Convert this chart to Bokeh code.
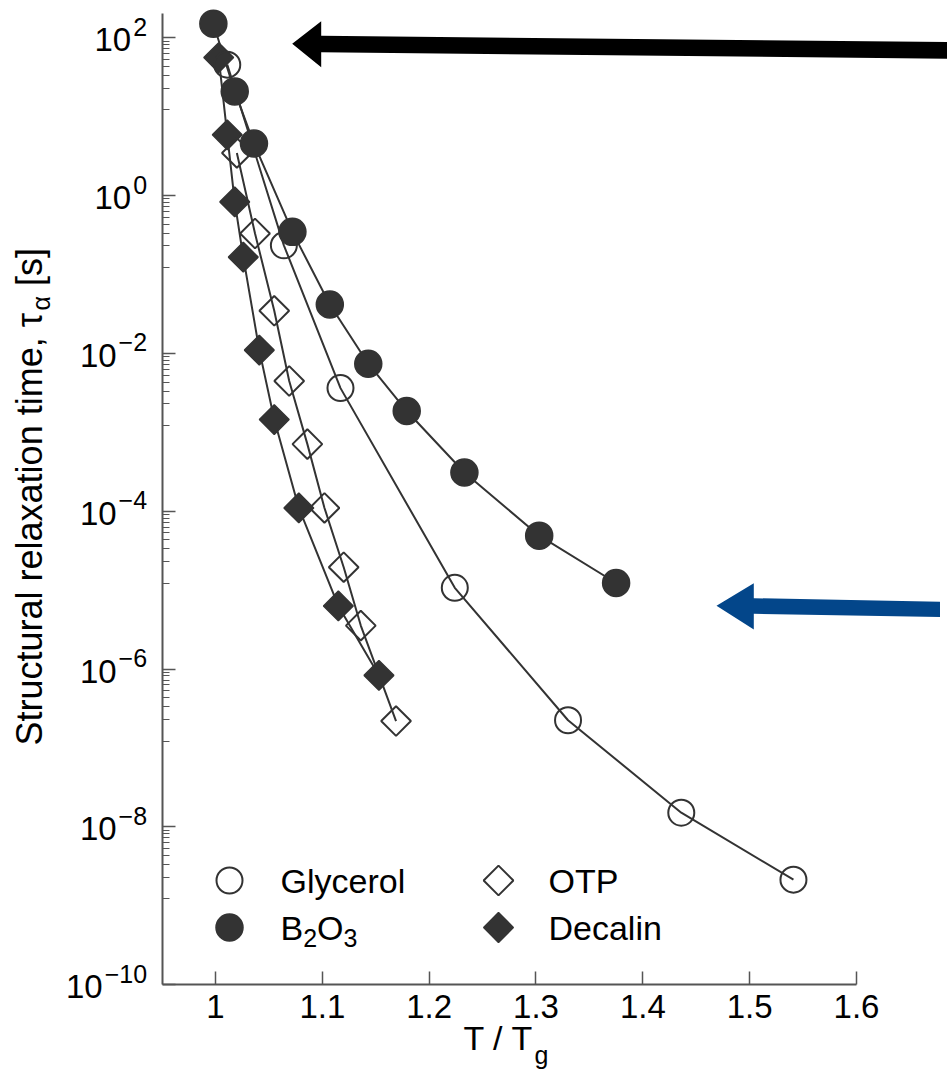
import numpy as np
from bokeh.plotting import figure
from bokeh.models import Range1d, FixedTicker, CustomJSTickFormatter, Label
from bokeh.embed import file_html
from bokeh.resources import INLINE

# ---------------- data ----------------
glycerol_x = [1.011, 1.064, 1.117, 1.224, 1.330, 1.436, 1.541]
glycerol_tau = [45.7, 0.234, 3.63e-3, 1.07e-5, 2.24e-7, 1.51e-8, 2.14e-9]

b2o3_x = [0.998, 1.018, 1.036, 1.072, 1.107, 1.143, 1.179, 1.233, 1.303, 1.375]
b2o3_tau = [151.0, 20.9, 4.57, 0.347, 0.0417, 7.4e-3, 1.86e-3, 3.09e-4, 4.9e-5, 1.23e-5]

otp_x = [1.020, 1.037, 1.055, 1.069, 1.086, 1.102, 1.120, 1.136, 1.169]
otp_tau = [3.47, 0.331, 0.0347, 4.47e-3, 7.08e-4, 1.10e-4, 1.95e-5, 3.55e-6, 2.19e-7]

decalin_x = [1.003, 1.011, 1.018, 1.026, 1.041, 1.055, 1.078, 1.115, 1.153]
decalin_tau = [56.2, 5.89, 0.832, 0.166, 0.011, 1.45e-3, 1.10e-4, 6.3e-6, 8.3e-7]

x_ticks = [1.0, 1.1, 1.2, 1.3, 1.4, 1.5, 1.6]
y_exponents = [2, 0, -2, -4, -6, -8, -10]

# ---------------- layout helpers (page pixels -> data) ----------------
X0_PX, X_PER_UNIT = 215.0, 1068.3
Y0_PX, Y_PER_DEC = 37.3, 78.9


def px2x(px):
    return 1.0 + (px - X0_PX) / X_PER_UNIT


def py2y(py):
    return 10.0 ** (2.0 - (py - Y0_PX) / Y_PER_DEC)


AW = {' ': 0.278, 'S': 0.667, 't': 0.278, 'r': 0.333, 'u': 0.556, 'c': 0.5, 'a': 0.556,
      'l': 0.222, 'e': 0.556, 'x': 0.5, 'i': 0.222, 'o': 0.556, 'n': 0.556, 'm': 0.833,
      ',': 0.278, '[': 0.278, ']': 0.278, 's': 0.5, 'T': 0.611, '/': 0.278, '\u03c4': 0.44,
      '\u03b1': 0.578, '\u2212': 0.584, 'g': 0.556, 'B': 0.667, 'O': 0.778}


def tw(text, size):
    return sum(AW.get(ch, 0.556) for ch in text) * size


BS = 0.36  # empirical shift of the rendered alphabetic baseline (in em)

FONT = "Liberation Sans"
DARK = "#333333"
AXC = "#555555"

W, H = 947, 1077
p = figure(width=W, height=H, y_axis_type="log",
           x_range=Range1d(px2x(0), px2x(W)),
           y_range=Range1d(py2y(H), py2y(0)),
           output_backend="svg", toolbar_location=None,
           min_border_left=0, min_border_right=0, min_border_top=0,
           min_border_bottom=0)
p.grid.visible = False
p.outline_line_color = None
p.background_fill_color = "white"
p.border_fill_color = "white"


def txt(x, y, s, size, **kw):
    p.add_layout(Label(x=x, y=y, text=s, text_font=FONT, text_font_size=f"{size}px",
                       text_color="black", **kw))


def base_txt(px, py, s, size):
    """horizontal text whose alphabetic baseline starts at page pixel (px, py)"""
    txt(px2x(px), py2y(py - BS * size), s, size, text_align="left", text_baseline="alphabetic")


def vert_txt(px, py, s, size):
    """text rotated 90deg, baseline at page x = px, starting at page y = py"""
    txt(px2x(px - BS * size), py2y(py), s, size, angle=np.pi / 2,
        text_align="left", text_baseline="alphabetic")


# ---------------- axes ----------------
xa = p.xaxis[0]
xa.fixed_location = 1e-10
xa.ticker = FixedTicker(ticks=x_ticks)
xa.bounds = (0.95, 1.6)
xa.formatter = CustomJSTickFormatter(code="return Math.abs(tick-1)<1e-9 ? '1' : tick.toFixed(1);")
xa.axis_line_color = AXC
xa.axis_line_width = 2
xa.major_tick_in = 13
xa.major_tick_out = 0
xa.major_tick_line_color = AXC
xa.major_tick_line_width = 1.5
xa.minor_tick_line_color = None
xa.major_label_text_font = FONT
xa.major_label_text_font_size = "33px"
xa.major_label_text_color = "black"
xa.major_label_standoff = 10

majors = [10.0 ** e for e in y_exponents]
minors = []
for m in majors[:-1]:
    for k in range(1, 10):
        minors.append(m * 10.0 ** (-0.913 * np.log10(10.0 / k)))
ya = p.yaxis[0]
ya.fixed_location = 0.95
ya.ticker = FixedTicker(ticks=majors, minor_ticks=minors)
ya.bounds = (1e-10, py2y(13))
ya.formatter = CustomJSTickFormatter(code="return '';")
ya.major_label_standoff = 0
ya.axis_line_color = AXC
ya.axis_line_width = 2
ya.major_tick_in = 13
ya.major_tick_out = 0
ya.minor_tick_in = 7
ya.minor_tick_out = 0
ya.major_tick_line_color = AXC
ya.major_tick_line_width = 1.5
ya.minor_tick_line_color = AXC
ya.minor_tick_line_width = 1.2

# y tick labels 10^n
SUP = 25
for e in y_exponents:
    et = str(e).replace('-', '\u2212')
    sw = tw(et, SUP)
    txt(0.95, 10.0 ** e, et, SUP, x_offset=-15, y_offset=11,
        text_align="right", text_baseline="middle")
    txt(0.95, 10.0 ** e, "10", 33, x_offset=-15 - sw - 2, y_offset=-2,
        text_align="right", text_baseline="middle")

# ---------------- arrows ----------------
blk = [(291.7, 43.3), (320.7, 20.7), (320.7, 35.3), (950, 41.5), (950, 58.2),
       (320.7, 51.7), (320.7, 66.7)]
blu = [(716, 605.3), (753.3, 582.7), (753.3, 597.7), (939.5, 601.2), (939.5, 616.5),
       (753.3, 613.3), (753.3, 629)]
p.patch([px2x(a) for a, b in blk], [py2y(b) for a, b in blk], fill_color="black", line_color=None)
p.patch([px2x(a) for a, b in blu], [py2y(b) for a, b in blu], fill_color="#03468A", line_color=None)

# ---------------- series ----------------
for xs, ys in [(glycerol_x, glycerol_tau), (b2o3_x, b2o3_tau), (otp_x, otp_tau), (decalin_x, decalin_tau)]:
    p.line(xs, ys, line_color=DARK, line_width=2)

STY = {
    "Decalin": dict(marker="square", angle=np.pi / 4, size=21, fill_color=DARK, line_color=DARK, line_width=1.5),
    "OTP": dict(marker="square", angle=np.pi / 4, size=21, fill_color=None, line_color=DARK, line_width=2),
    "Glycerol": dict(marker="circle", size=26, fill_color=None, line_color=DARK, line_width=2),
    "B2O3": dict(marker="circle", size=27, fill_color=DARK, line_color=DARK, line_width=1.5),
}
p.scatter(decalin_x, decalin_tau, **STY["Decalin"])
p.scatter(otp_x, otp_tau, **STY["OTP"])
p.scatter(glycerol_x, glycerol_tau, **STY["Glycerol"])
p.scatter(b2o3_x, b2o3_tau, **STY["B2O3"])

# ---------------- legend (2 columns) ----------------
LF = 34
col_key = [229, 498]
col_txt = [280, 548]
row_c = [880, 927]
entries = [("Glycerol", 0, 0), ("B2O3", 0, 1), ("OTP", 1, 0), ("Decalin", 1, 1)]
for name, c, r in entries:
    p.scatter([px2x(col_key[c])], [py2y(row_c[r])], **STY[name])
    base = row_c[r] + 12.5
    if name == "B2O3":
        x = col_txt[c]
        for piece, sub in [("B", False), ("2", True), ("O", False), ("3", True)]:
            sz = 25 if sub else LF
            base_txt(x, base + (7 if sub else 0), piece, sz)
            x += tw(piece, sz)
    else:
        base_txt(col_txt[c], base, name, LF)

# ---------------- axis titles ----------------
TF = 36
t1 = "Structural relaxation time, \u03c4"
y_start = 745
vert_txt(42, y_start, t1, TF)
a_start = y_start - tw(t1, TF) - 1
vert_txt(49, a_start, "\u03b1", 25)
s_start = a_start - tw("\u03b1", 25) - tw(" ", TF)
vert_txt(42, s_start, "[s]", TF)

XT = 34
base_txt(463, 1050, "T / T", XT)
base_txt(463 + tw("T / T", XT) + 1, 1063, "g", 25)

open("out.html", "w").write(file_html(p, INLINE))
